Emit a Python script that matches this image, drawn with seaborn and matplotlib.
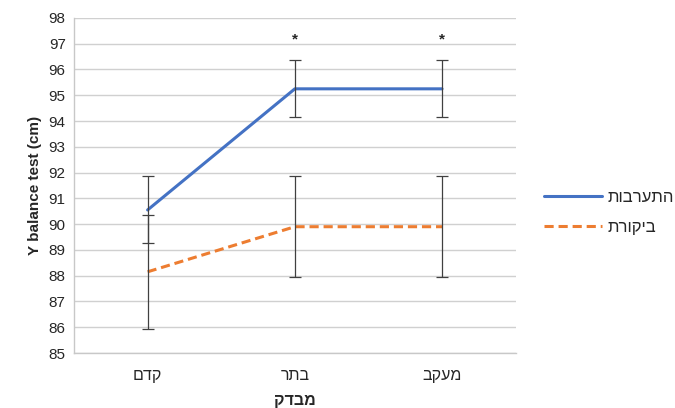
import numpy as np
import pandas as pd
import matplotlib
matplotlib.use("Agg")
import matplotlib.pyplot as plt
import seaborn as sns

# data
tests = ["קדם", "בתר", "מעקב"]
intervention = [90.55, 95.25, 95.25]
intervention_err = [1.3, 1.1, 1.1]
control = [88.15, 89.9, 89.9]
control_err = [2.2, 1.95, 1.95]
significant = [False, True, True]
group_names = ["התערבות", "ביקורת"]


def rtl(s):
    """matplotlib has no bidi support, so flip Hebrew for display."""
    return s[::-1]


sns.set_style("white")
plt.rcParams['font.family'] = ['Liberation Sans', 'DejaVu Sans']

df = pd.DataFrame({
    "pos": list(range(len(tests))) * 2,
    "value": intervention + control,
    "group": [rtl(group_names[0])] * 3 + [rtl(group_names[1])] * 3,
})

fig = plt.figure(figsize=(6.75, 4.08), dpi=100)
ax = fig.add_axes([0.1096, 0.1348, 0.6544, 0.8212])

palette = {rtl(group_names[0]): "#4472C4", rtl(group_names[1]): "#ED7D31"}
sns.lineplot(data=df, x="pos", y="value", hue="group", style="group",
             palette=palette, dashes={rtl(group_names[0]): "", rtl(group_names[1]): (3, 1.6)},
             linewidth=2.2, ax=ax, legend=True, zorder=3)

x = np.arange(len(tests))
ax.errorbar(x, intervention, yerr=intervention_err, fmt="none", ecolor="#404040",
            elinewidth=0.9, capsize=4, capthick=0.9, zorder=4)
ax.errorbar(x, control, yerr=control_err, fmt="none", ecolor="#404040",
            elinewidth=0.9, capsize=4, capthick=0.9, zorder=4)

for xi, sig in zip(x, significant):
    if sig:
        ax.text(xi, 97.15, "*", ha="center", va="center", fontsize=11, fontweight="bold")

ax.set_xlim(-0.5, 2.5)
ax.set_ylim(85, 98)
ax.set_yticks(range(85, 99))
ax.set_xticks(x)
ax.set_xticklabels([rtl(t) for t in tests], fontsize=11.5)
ax.tick_params(axis="y", labelsize=11, length=0, pad=6)
ax.tick_params(axis="x", length=0, pad=11)
ax.yaxis.grid(True, color="#d0d0d0", linewidth=1)
ax.set_axisbelow(True)

for side in ["top", "right"]:
    ax.spines[side].set_visible(False)
for side in ["left", "bottom"]:
    ax.spines[side].set_color("#c8c8c8")
    ax.spines[side].set_linewidth(1)

ax.set_ylabel("Y balance test (cm)", fontsize=11, fontweight="bold", labelpad=5)
ax.set_xlabel(rtl("מבדק"), fontsize=11.5, fontweight="bold", labelpad=7)

leg = ax.legend(loc="center left", bbox_to_anchor=(1.03, 0.42), frameon=False,
                fontsize=12, handlelength=3.5, handletextpad=0.3, labelspacing=0.9)
leg.set_title(None)

fig.savefig("out.png", dpi=100)
